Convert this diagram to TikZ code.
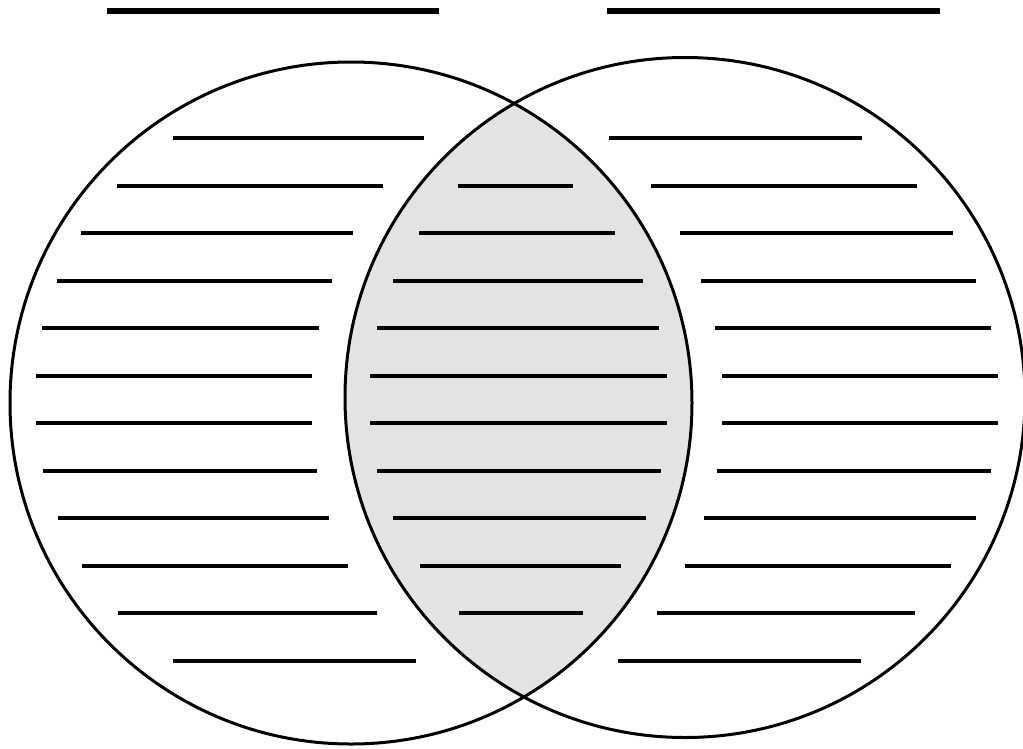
\documentclass[tikz,border=0pt]{standalone}
\usepackage{tikz}

\begin{document}
\begin{tikzpicture}[x=1pt, y=-1pt, line width=3pt]
	\useasboundingbox (0,0) rectangle (1023,748);
	\coordinate (leftc) at (351,403);
	\coordinate (rightc) at (685,397.5);
	% shaded overlap
	\begin{scope}
		\clip (leftc) circle (341);
		\fill[black!11] (rightc) circle (340);
	\end{scope}
	% the two sets
	\draw (leftc) circle (341);
	\draw (rightc) circle (340);
	% title lines
	\draw[line width=6.5pt] (107,11) -- (439,11);
	\draw[line width=6.5pt] (607,11) -- (940,11);
	% writing lines, left part
	\foreach \y/\a/\b in {138/173/424, 186/117/383, 233/81/353, 281/57/332, 328/42/319, 376/36/312, 423/36/312, 471/43/317, 518/58/329, 566/82/348, 613/118/377, 661/173/416} {\draw[line width=3.6pt] (\a,\y) -- (\b,\y);}
	% writing lines, overlap
	\foreach \y/\a/\b in {186/458/573, 233/419/615, 281/393/643, 328/377/659, 376/370/667, 423/370/667, 471/377/661, 518/393/646, 566/420/621, 613/459/583} {\draw[line width=3.6pt] (\a,\y) -- (\b,\y);}
	% writing lines, right part
	\foreach \y/\a/\b in {138/609/862, 186/651/917, 233/680/953, 281/701/976, 328/715/991, 376/722/998, 423/722/998, 471/717/991, 518/704/976, 566/685/951, 613/657/915, 661/618/861} {\draw[line width=3.6pt] (\a,\y) -- (\b,\y);}
\end{tikzpicture}
\end{document}
